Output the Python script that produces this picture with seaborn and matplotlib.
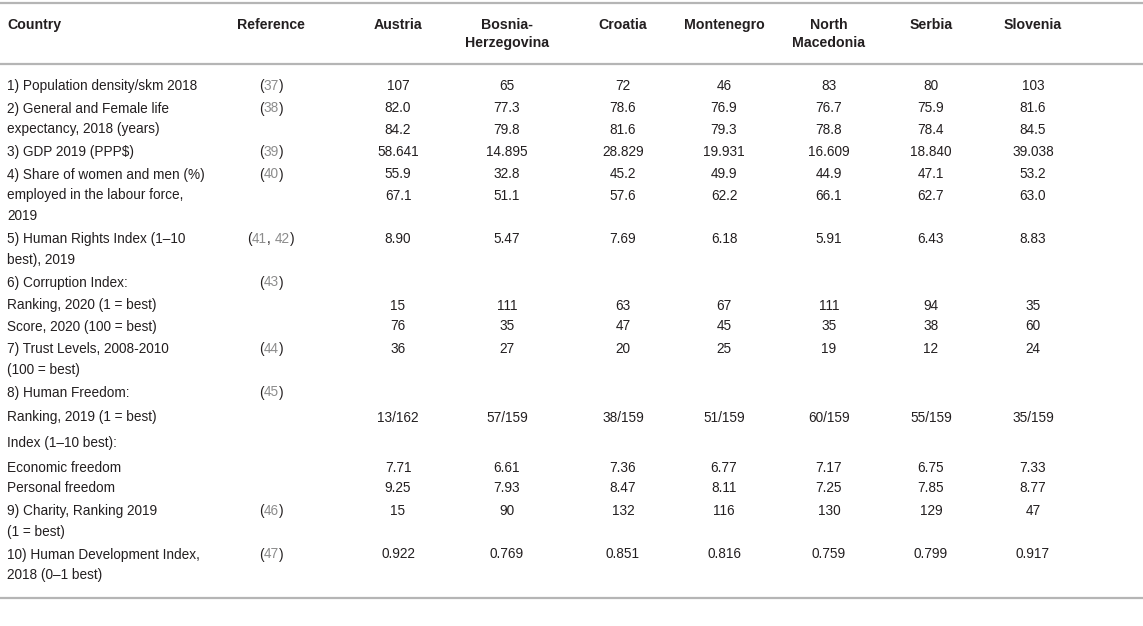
import matplotlib
matplotlib.use("Agg")
import matplotlib.pyplot as plt
import seaborn as sns

# Table content
countries = ["Austria", "Bosnia-\nHerzegovina", "Croatia", "Montenegro",
             "North\nMacedonia", "Serbia", "Slovenia"]

pop_density = ["107", "65", "72", "46", "83", "80", "103"]
life_general = ["82.0", "77.3", "78.6", "76.9", "76.7", "75.9", "81.6"]
life_female = ["84.2", "79.8", "81.6", "79.3", "78.8", "78.4", "84.5"]
gdp = ["58.641", "14.895", "28.829", "19.931", "16.609", "18.840", "39.038"]
women_employed = ["55.9", "32.8", "45.2", "49.9", "44.9", "47.1", "53.2"]
men_employed = ["67.1", "51.1", "57.6", "62.2", "66.1", "62.7", "63.0"]
human_rights = ["8.90", "5.47", "7.69", "6.18", "5.91", "6.43", "8.83"]
corruption_rank = ["15", "111", "63", "67", "111", "94", "35"]
corruption_score = ["76", "35", "47", "45", "35", "38", "60"]
trust = ["36", "27", "20", "25", "19", "12", "24"]
freedom_rank = ["13/162", "57/159", "38/159", "51/159", "60/159", "55/159", "35/159"]
economic_freedom = ["7.71", "6.61", "7.36", "6.77", "7.17", "6.75", "7.33"]
personal_freedom = ["9.25", "7.93", "8.47", "8.11", "7.25", "7.85", "8.77"]
charity = ["15", "90", "132", "116", "130", "129", "47"]
hdi = ["0.922", "0.769", "0.851", "0.816", "0.759", "0.799", "0.917"]

# one entry per printed line: label, reference, values
labels = [
    "1) Population density/skm 2018",
    "2) General and Female life", "expectancy, 2018 (years)",
    "3) GDP 2019 (PPP$)",
    "4) Share of women and men (%)", "employed in the labour force,", "2019",
    "5) Human Rights Index (1\u201310", "best), 2019",
    "6) Corruption Index:", "Ranking, 2020 (1 = best)", "Score, 2020 (100 = best)",
    "7) Trust Levels, 2008-2010", "(100 = best)",
    "8) Human Freedom:", "Ranking, 2019 (1 = best)", "Index (1\u201310 best):",
    "Economic freedom", "Personal freedom",
    "9) Charity, Ranking 2019", "(1 = best)",
    "10) Human Development Index,", "2018 (0\u20131 best)",
]
refs = [["37"], ["38"], None, ["39"], ["40"], None, None, ["41", "42"], None,
        ["43"], None, None, ["44"], None, ["45"], None, None, None, None,
        ["46"], None, ["47"], None]
values = [pop_density, life_general, life_female, gdp, women_employed,
          men_employed, None, human_rights, None, None, corruption_rank,
          corruption_score, trust, None, None, freedom_rank, None,
          economic_freedom, personal_freedom, charity, None, hdi, None]

# layout (pixels)
gap_kind = "_BWBBWWBWBCWBWBSSSWBWBW"
gap_size = {"W": 21.0, "B": 22.5, "C": 23.0, "S": 25.0}
first_row_y = 86
label_x = 7
ref_x = 271
col_x = [398, 507, 623, 724, 829, 931, 1033]
text_color = "#231f20"
ref_color = "#8c8c8c"
rule_color = "#b5b5b5"
fs = 9.8
fs_head = 10.2

sns.set_theme(style="white")
plt.rcParams["font.family"] = ["Liberation Sans", "DejaVu Sans"]

fig = plt.figure(figsize=(11.43, 6.26), dpi=100)
ax = fig.add_axes([0, 0, 1, 1])
ax.set_xlim(0, 1143)
ax.set_ylim(626, 0)
ax.axis("off")

# rules
for y in [3, 64, 598]:
    ax.axhline(y, color=rule_color, lw=1.6)

# header
hdr_y = 25
ax.text(label_x, hdr_y, "Country", ha="left", va="center", fontsize=fs_head,
        fontweight="bold", color=text_color)
ax.text(ref_x, hdr_y, "Reference", ha="center", va="center", fontsize=fs_head,
        fontweight="bold", color=text_color)
for x, name in zip(col_x, countries):
    for k, part in enumerate(name.split("\n")):
        ax.text(x, hdr_y + 18 * k, part, ha="center", va="center",
                fontsize=fs_head, fontweight="bold", color=text_color)

renderer = fig.canvas.get_renderer()


def text_width(s):
    t = ax.text(0, 0, s, fontsize=fs)
    w = t.get_window_extent(renderer).width
    t.remove()
    return w


def draw_ref(y, nums):
    pieces = ["("]
    for i, n in enumerate(nums):
        if i:
            pieces.append(", ")
        pieces.append(n)
    pieces.append(")")
    bar = text_width("|")
    total = text_width("".join(pieces) + "|") - bar
    x0 = ref_x - total / 2
    prefix = ""
    for p in pieces:
        off = text_width(prefix + "|") - bar if prefix else 0
        col = ref_color if p.strip(", ()") else text_color
        ax.text(x0 + off, y, p, ha="left", va="center", fontsize=fs, color=col)
        prefix += p


y = first_row_y
for i, (lab, ref, vals) in enumerate(zip(labels, refs, values)):
    if i:
        y += gap_size[gap_kind[i]]
    ax.text(label_x, y, lab, ha="left", va="center", fontsize=fs, color=text_color)
    if ref:
        draw_ref(y, ref)
    if vals:
        for x, v in zip(col_x, vals):
            ax.text(x, y, v, ha="center", va="center", fontsize=fs, color=text_color)

fig.savefig("out.png", dpi=100, facecolor="white")
